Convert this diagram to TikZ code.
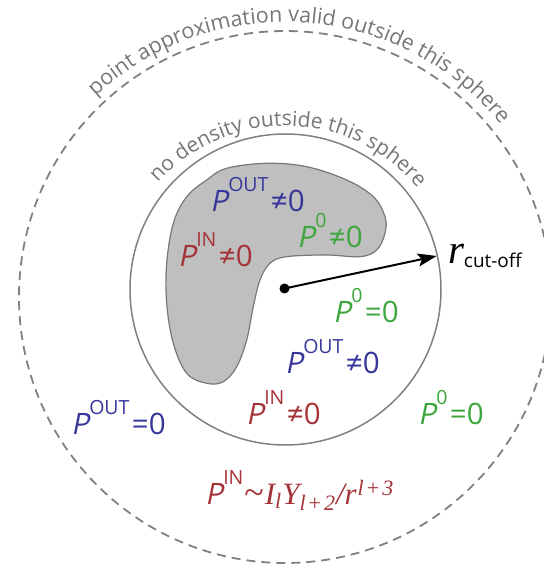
\documentclass[tikz,border=0pt]{standalone}
\usepackage{fontspec}
\setmainfont{Liberation Serif}
\newfontfamily\osans{Open Sans}
\newfontfamily\osl{Open Sans}[FakeSlant=0.2]
\newfontfamily\tims{Liberation Serif}
\usetikzlibrary{decorations.text, arrows.meta}
\definecolor{tgray}{RGB}{118,118,118}
\definecolor{lgray}{RGB}{128,128,128}
\definecolor{bfill}{RGB}{191,191,191}
\definecolor{bline}{RGB}{120,120,120}
\definecolor{pblue}{RGB}{55,55,155}
\definecolor{pred}{RGB}{165,50,55}
\definecolor{pgreen}{RGB}{60,165,60}
\newcommand{\PP}[2]{{\osl\fontsize{29.5}{29.5}\selectfont P}\kern0.5pt\raisebox{20pt}{\osans\fontsize{19.5}{19.5}\selectfont #1}\kern2.5pt{\osans\fontsize{29.5}{29.5}\selectfont #2}}
\newcommand{\arcfont}{\color{tgray}\osans\fontsize{21.5}{21.5}\selectfont}
\newcommand{\arcfontb}{\color{tgray}\osans\fontsize{21}{21}\selectfont}
\newcommand{\subsz}{\fontsize{22}{22}\selectfont}
\tikzset{
  lab/.style={anchor=base west, inner sep=0pt, outer sep=0pt},
  dotst/.style={circle, fill=black, inner sep=0pt, minimum size=10pt},
  arcpath/.style={decorate, decoration={text along path, text align=center, text={#1}}},
}
\begin{document}
\begin{tikzpicture}[x=1pt,y=1pt]
\useasboundingbox (0,0) rectangle (544,574);
\clip (0,0) rectangle (544,574);
% outer dashed sphere
\draw[lgray, line width=1.8pt, dash pattern=on 9pt off 6pt] (285,277) circle[radius=266pt];
% inner sphere
\draw[lgray, line width=1.5pt] (285.5,284.5) circle[radius=155.5pt];
% blob
\draw[bline, line width=1.2pt, fill=bfill] plot[smooth cycle, tension=0.6] coordinates {
 (206.7,394) (226.7,405.7) (266.7,410.7) (306.7,407.3) (346.7,394) (373.3,377.3)
 (385,357.3) (385,340.7) (376.7,324) (360,317.3) (326.7,319) (286.7,317.3)
 (270,310.7) (260,294) (253.3,267.3) (246.7,234) (236.7,207.3) (223.3,192.3)
 (206.7,190.7) (186.7,200.7) (173.3,230.7) (166.7,270.7) (166.7,310.7)
 (173.3,350.7) (186.7,377.3)};
% arc texts
\path[font=\osans\fontsize{21.5}{21.5}\selectfont, arcpath={|\arcfont|point approximation valid outside this sphere}]
  (285,274) ++(146:278pt) arc[start angle=146, end angle=26, radius=278pt];
\path[font=\osans\fontsize{21}{21}\selectfont, arcpath={|\arcfontb|no density outside this sphere}]
  (285.5,276) ++(148.9:172pt) arc[start angle=148.9, end angle=28.9, radius=172pt];
% radius arrow
\node[dotst] (ctr) at (284.5,285.5) {};
\coordinate (tip) at (436.7,318);
\draw[line width=2pt, -{Stealth[length=19pt,width=13pt,inset=4pt]}] (ctr.center) -- (tip);
\node[lab] (rc) at (448,310) {{\tims\itshape\fontsize{41}{41}\selectfont r}\lower4pt\hbox{\osans\fontsize{19}{19}\selectfont cut-off}};
% labels
\node[lab, text=pblue] (l1) at (210,362) {\PP{OUT}{≠0}};
\node[lab, text=pred] (l2) at (178,307) {\PP{IN}{≠0}};
\node[lab, text=pgreen] (l3) at (297,326) {\PP{0}{≠0}};
\node[lab, text=pgreen] (l4) at (333,251) {\PP{0}{=0}};
\node[lab, text=pblue] (l5) at (285,200) {\PP{OUT}{≠0}};
\node[lab, text=pred] (l6) at (246,149) {\PP{IN}{≠0}};
\node[lab, text=pblue] (l7) at (71,139) {\PP{OUT}{=0}};
\node[lab, text=pgreen] (l8) at (418,149) {\PP{0}{=0}};
\node[lab, text=pred] (l9) at (205,69) {{\osl\fontsize{29.5}{29.5}\selectfont P}\kern0.5pt\raisebox{20pt}{\osans\fontsize{19.5}{19.5}\selectfont IN}%
  {\tims\fontsize{31}{31}\selectfont\kern1pt\hbox{\fontsize{36}{36}\selectfont\char"7E}\kern1pt\itshape I\lower4pt\hbox{\subsz l}\kern1pt Y\lower6pt\hbox{\subsz l\kern3pt\upshape+\kern3pt\itshape 2}\kern1pt/r\raise9pt\hbox{\subsz\kern1pt l\kern3pt\upshape+\kern3pt\itshape 3}}};
\end{tikzpicture}
\end{document}
